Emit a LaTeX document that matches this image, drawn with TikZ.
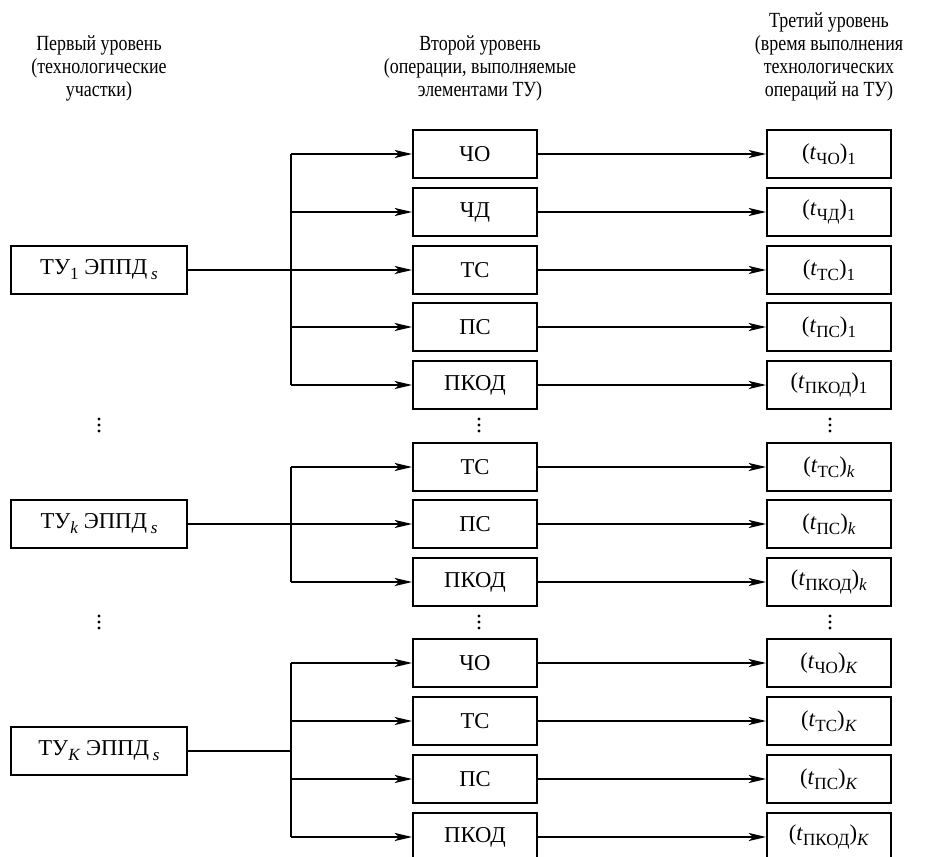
\documentclass[tikz,border=0pt]{standalone}
\usepackage{fontspec}
\setmainfont{Liberation Serif}
\newfontfamily\hdfam[FakeStretch=0.83]{Liberation Serif}
\usetikzlibrary{arrows.meta}
\newcommand{\bxfont}{\fontsize{17}{19}\selectfont}
\newcommand{\hdfont}{\hdfam\fontsize{16.2}{17.25}\selectfont}
\newcommand{\sbs}[1]{\raisebox{-0.22em}{\fontsize{12.8}{13}\selectfont #1}}
\newcommand{\tval}[2]{(\textit{t}\sbs{#1})\sbs{#2}}
\begin{document}
\begin{tikzpicture}[x=0.75pt,y=-0.75pt,
  box/.style={draw, line width=1.3pt, inner sep=0pt, minimum width=93pt, minimum height=36pt, font=\bxfont},
  lbox/.style={box, minimum width=132pt, minimum height=36pt},
  ln/.style={line width=1.3pt},
  arr/.style={ln, -{Stealth[length=13pt,width=6pt,inset=3pt]}},
  hd/.style={align=center, font=\hdfont, inner sep=0pt},
  dotmark/.style={fill=black, draw=none}]
\useasboundingbox (0,0) rectangle (932,857);
\clip (0,0) rectangle (932,857);

% headers
\node[hd] (h1) at (99,68) {Первый уровень\\(технологические\\участки)};
\node[hd] (h2) at (480,68) {Второй уровень\\(операции, выполняемые\\элементами ТУ)};
\node[hd] (h3) at (829,56.5) {Третий уровень\\(время выполнения\\технологических\\операций на ТУ)};

% left boxes
\node[lbox] (L1) at (99,270) {ТУ\sbs{1} ЭППД\,\sbs{\textit{s}}};
\node[lbox] (L2) at (99,524) {ТУ\sbs{\textit{k}} ЭППД\,\sbs{\textit{s}}};
\node[lbox] (L3) at (99,751) {ТУ\sbs{\textit{K}} ЭППД\,\sbs{\textit{s}}};

% group 1
\node[box] (M1a) at (475,154) {ЧО};
\node[box] (M1b) at (475,212) {ЧД};
\node[box] (M1c) at (475,270) {ТС};
\node[box] (M1d) at (475,327) {ПС};
\node[box] (M1e) at (475,385) {ПКОД};
\node[box] (R1a) at (829,154) {\tval{ЧО}{1}};
\node[box] (R1b) at (829,212) {\tval{ЧД}{1}};
\node[box] (R1c) at (829,270) {\tval{ТС}{1}};
\node[box] (R1d) at (829,327) {\tval{ПС}{1}};
\node[box] (R1e) at (829,385) {\tval{ПКОД}{1}};

% group 2
\node[box] (M2a) at (475,467) {ТС};
\node[box] (M2b) at (475,524) {ПС};
\node[box] (M2c) at (475,582) {ПКОД};
\node[box] (R2a) at (829,467) {\tval{ТС}{\textit{k}}};
\node[box] (R2b) at (829,524) {\tval{ПС}{\textit{k}}};
\node[box] (R2c) at (829,582) {\tval{ПКОД}{\textit{k}}};

% group 3
\node[box] (M3a) at (475,663) {ЧО};
\node[box] (M3b) at (475,721) {ТС};
\node[box] (M3c) at (475,779) {ПС};
\node[box] (M3d) at (475,837) {ПКОД};
\node[box] (R3a) at (829,663) {\tval{ЧО}{\textit{K}}};
\node[box] (R3b) at (829,721) {\tval{ТС}{\textit{K}}};
\node[box] (R3c) at (829,779) {\tval{ПС}{\textit{K}}};
\node[box] (R3d) at (829,837) {\tval{ПКОД}{\textit{K}}};

% vertical ellipsis marks
\foreach \x in {99,479,830}
  \foreach \y in {425,622}
    \foreach \d in {-6,0,6}
      \fill[dotmark] (\x,\y+\d) circle[radius=1.7];

% junction coordinates
\coordinate (j1) at (291,270);
\coordinate (j2) at (291,524);
\coordinate (j3) at (291,751);

% group 1 connectors
\draw[arr] (L1.east) -- (M1c.west);
\draw[ln] (j1 |- M1a.west) -- (j1 |- M1e.west);
\foreach \m in {M1a,M1b,M1d,M1e} \draw[arr] (j1 |- \m.west) -- (\m.west);
\foreach \m/\r in {M1a/R1a,M1b/R1b,M1c/R1c,M1d/R1d,M1e/R1e} \draw[arr] (\m.east) -- (\r.west);

% group 2 connectors
\draw[arr] (L2.east) -- (M2b.west);
\draw[ln] (j2 |- M2a.west) -- (j2 |- M2c.west);
\foreach \m in {M2a,M2c} \draw[arr] (j2 |- \m.west) -- (\m.west);
\foreach \m/\r in {M2a/R2a,M2b/R2b,M2c/R2c} \draw[arr] (\m.east) -- (\r.west);

% group 3 connectors
\draw[ln] (L3.east) -- (j3);
\draw[ln] (j3 |- M3a.west) -- (j3 |- M3d.west);
\foreach \m in {M3a,M3b,M3c,M3d} \draw[arr] (j3 |- \m.west) -- (\m.west);
\foreach \m/\r in {M3a/R3a,M3b/R3b,M3c/R3c,M3d/R3d} \draw[arr] (\m.east) -- (\r.west);
\end{tikzpicture}
\end{document}
